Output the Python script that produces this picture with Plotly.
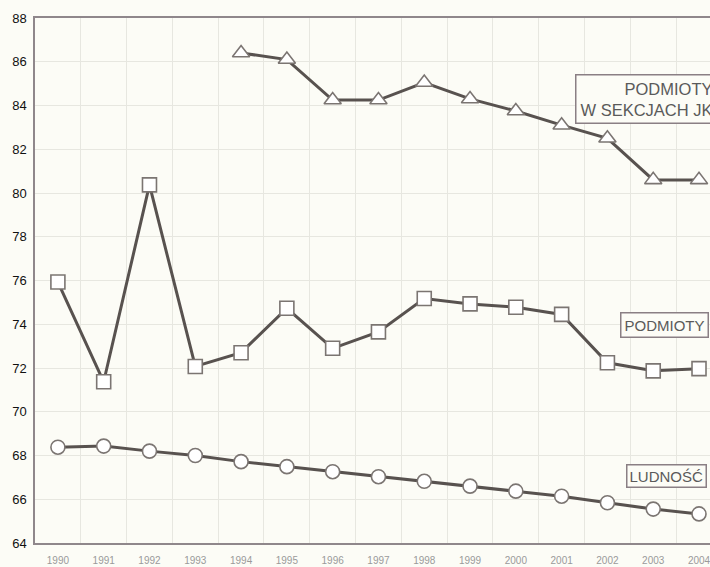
import plotly.graph_objects as go

years = list(range(1990, 2005))
years_jk = list(range(1994, 2005))

podmioty_jk = [86.4, 86.1, 84.25, 84.25, 85.05, 84.3, 83.75, 83.1, 82.5, 80.6, 80.6]
podmioty = [75.93, 71.37, 80.37, 72.07, 72.7, 74.73, 72.9, 73.65, 75.18, 74.93, 74.78,
            74.45, 72.24, 71.87, 71.97]
ludnosc = [68.38, 68.43, 68.2, 68.0, 67.72, 67.49, 67.26, 67.03, 66.82, 66.6, 66.37,
           66.14, 65.84, 65.55, 65.33]

y_ticks = list(range(64, 89, 2))

LINE = "#58524f"
EDGE = "#7b7572"
BG = "#fcfcf6"

fig = go.Figure()

def add(x, y, symbol, size):
    fig.add_trace(go.Scatter(
        x=x, y=y, mode="lines+markers",
        line=dict(color=LINE, width=3),
        marker=dict(symbol=symbol, size=size, color="white",
                    line=dict(color=EDGE, width=1.6)),
        showlegend=False, cliponaxis=False, hoverinfo="skip"))

add(years_jk, podmioty_jk, "triangle-up", 15)
add(years, podmioty, "square", 14)
add(years, ludnosc, "circle", 14)

lab_font = dict(family="Liberation Sans, Arial, sans-serif", size=15, color="#5a5a5a")
fig.add_annotation(text="PODMIOTY<br>W SEKCJACH JK", xref="paper", yref="y",
                   x=0.8, xanchor="left", y=84.3, yanchor="middle",
                   showarrow=False, align="right", font=dict(lab_font, size=16.5),
                   bordercolor="#8a7f84", borderwidth=1.5, borderpad=4, bgcolor=BG)
fig.add_annotation(text="PODMIOTY", xref="paper", yref="y",
                   x=0.9985, xanchor="right", y=73.95, yanchor="middle",
                   showarrow=False, font=lab_font,
                   bordercolor="#8a7f84", borderwidth=1.5, borderpad=3, bgcolor=BG)
fig.add_annotation(text="LUDNOŚĆ", xref="paper", yref="y",
                   x=0.9956, xanchor="right", y=67.06, yanchor="middle",
                   showarrow=False, font=lab_font,
                   bordercolor="#8a7f84", borderwidth=1.5, borderpad=2, bgcolor=BG)

fig.update_layout(
    width=710, height=567,
    margin=dict(l=35, r=0, t=18, b=24),
    paper_bgcolor=BG, plot_bgcolor=BG,
    xaxis=dict(range=[1989.5, 2004.24], tickvals=years,
               ticktext=[str(y) for y in years], showgrid=False,
               tickfont=dict(family="Liberation Sans Narrow, Arial Narrow, sans-serif",
                             size=10, color="#9a9a9a"),
               ticks="", ticklabelstandoff=7, ticklabeloverflow="allow",
               showline=True, linecolor="#8f878b", linewidth=1.5, mirror=True,
               minor=dict(tick0=1989.5, dtick=1, showgrid=True,
                          gridcolor="#e7e7e0", gridwidth=1),
               zeroline=False),
    yaxis=dict(range=[64, 88], tickvals=y_ticks, showgrid=True,
               gridcolor="#e7e7e0", gridwidth=1,
               tickfont=dict(family="Liberation Sans, Arial, sans-serif",
                             size=13, color="#111"),
               ticks="", ticklabelstandoff=4,
               showline=True, linecolor="#8f878b", linewidth=1.5,
               zeroline=False),
)

fig.write_html("out.html", config={"displayModeBar": False},
               post_script="document.body.style.margin='0';document.body.style.overflow='hidden';")
